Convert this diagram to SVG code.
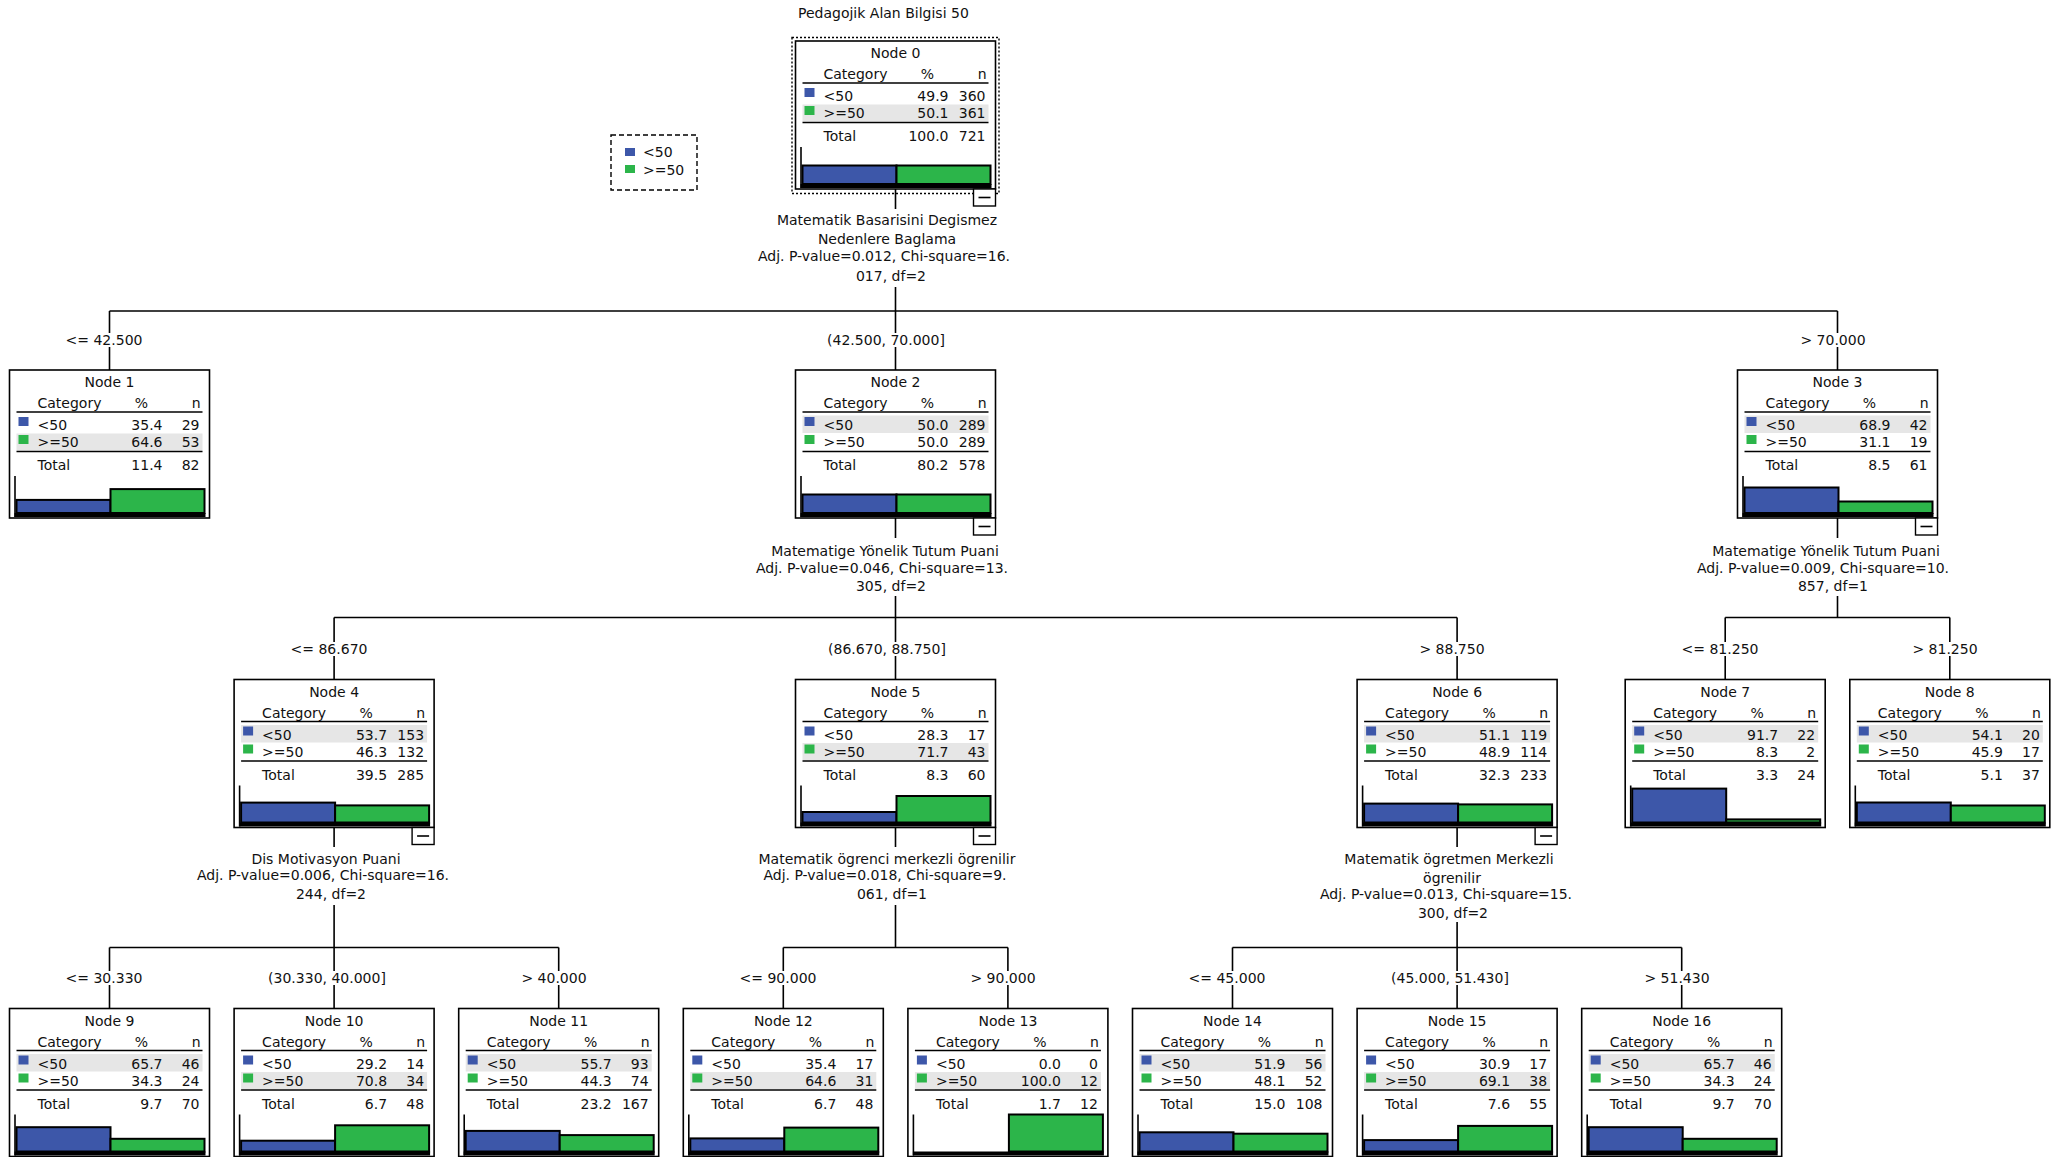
<svg xmlns="http://www.w3.org/2000/svg" width="2065" height="1157" viewBox="0 0 2065 1157">
<style>
.t{font-family:"DejaVu Sans","Liberation Sans",sans-serif;font-size:14px;fill:#111}
.c{text-anchor:middle}
.e{text-anchor:end}
.box{fill:#fff;stroke:#000;stroke-width:1.6}
.hl{fill:#e6e6e6}
.ln{stroke:#000;stroke-width:1.6}
.ax{stroke:#000;stroke-width:1.6}
.b{fill:#3d57a9}
.g{fill:#2cb54a}
.bar{stroke:#000;stroke-width:2}
.base{fill:#000}
.cb{fill:#fff;stroke:#000;stroke-width:1.4}
.conn{stroke:#000;stroke-width:1.6;fill:none}
.sel{fill:none;stroke:#000;stroke-width:1.4;stroke-dasharray:2 2}
.leg{fill:#fff;stroke:#000;stroke-width:1.4;stroke-dasharray:5 3}
</style>
<rect width="2065" height="1157" fill="#fff"/>
<text class="t" x="798" y="17.5">Pedagojik Alan Bilgisi 50</text>

<g id="legend">
<rect class="leg" x="611" y="135" width="86" height="55"/>
<rect class="b" x="625" y="148" width="10" height="8"/>
<text class="t" x="643" y="157">&lt;50</text>
<rect class="g" x="625" y="165" width="10" height="8"/>
<text class="t" x="643" y="175">&gt;=50</text>
</g>

<g id="connectors">
<path class="conn" d="M895.5 189V209M895.5 287V311M109.5 311H1837.5M109.5 311V333M109.5 347V370M895.5 311V333M895.5 347V370M1837.5 311V333M1837.5 347V370"/>
<path class="conn" d="M895.5 518V538M895.5 596V617.5M334.1 617.5H1457.1M334.1 617.5V642M334.1 656V679.5M895.5 617.5V642M895.5 656V679.5M1457.1 617.5V642M1457.1 656V679.5"/>
<path class="conn" d="M1837.5 518V538M1837.5 596V617.5M1725.2 617.5H1949.8M1725.2 617.5V642M1725.2 656V679.5M1949.8 617.5V642M1949.8 656V679.5"/>
<path class="conn" d="M334.1 827.5V847M334.1 905V947.5M109.5 947.5H558.7M109.5 947.5V971M109.5 985V1008.5M334.1 947.5V971M334.1 985V1008.5M558.7 947.5V971M558.7 985V1008.5"/>
<path class="conn" d="M895.5 827.5V847M895.5 905V947.5M783.3 947.5H1007.9M783.3 947.5V971M783.3 985V1008.5M1007.9 947.5V971M1007.9 985V1008.5"/>
<path class="conn" d="M1457.1 827.5V847M1457.1 922V947.5M1232.5 947.5H1681.7M1232.5 947.5V971M1232.5 985V1008.5M1457.1 947.5V971M1457.1 985V1008.5M1681.7 947.5V971M1681.7 985V1008.5"/>
</g>

<g id="labels">
<text class="t c" x="887" y="225">Matematik Basarisini Degismez</text>
<text class="t c" x="887" y="244">Nedenlere Baglama</text>
<text class="t c" x="884" y="261">Adj. P-value=0.012, Chi-square=16.</text>
<text class="t c" x="891" y="281">017, df=2</text>
<text class="t c" x="104" y="345">&lt;= 42.500</text>
<text class="t c" x="886" y="345">(42.500, 70.000]</text>
<text class="t c" x="1833" y="345">&gt; 70.000</text>

<text class="t c" x="885" y="555.5">Matematige Yönelik Tutum Puani</text>
<text class="t c" x="882" y="573">Adj. P-value=0.046, Chi-square=13.</text>
<text class="t c" x="891" y="590.5">305, df=2</text>
<text class="t c" x="1826" y="555.5">Matematige Yönelik Tutum Puani</text>
<text class="t c" x="1823" y="573">Adj. P-value=0.009, Chi-square=10.</text>
<text class="t c" x="1833" y="590.5">857, df=1</text>
<text class="t c" x="329" y="654">&lt;= 86.670</text>
<text class="t c" x="887" y="654">(86.670, 88.750]</text>
<text class="t c" x="1452" y="654">&gt; 88.750</text>
<text class="t c" x="1720" y="654">&lt;= 81.250</text>
<text class="t c" x="1945" y="654">&gt; 81.250</text>

<text class="t c" x="326" y="864">Dis Motivasyon Puani</text>
<text class="t c" x="323" y="880">Adj. P-value=0.006, Chi-square=16.</text>
<text class="t c" x="331" y="899">244, df=2</text>
<text class="t c" x="887" y="864">Matematik ögrenci merkezli ögrenilir</text>
<text class="t c" x="885" y="880">Adj. P-value=0.018, Chi-square=9.</text>
<text class="t c" x="892" y="899">061, df=1</text>
<text class="t c" x="1449" y="864">Matematik ögretmen Merkezli</text>
<text class="t c" x="1452" y="883">ögrenilir</text>
<text class="t c" x="1446" y="899">Adj. P-value=0.013, Chi-square=15.</text>
<text class="t c" x="1453" y="917.5">300, df=2</text>
<text class="t c" x="104" y="983">&lt;= 30.330</text>
<text class="t c" x="327" y="983">(30.330, 40.000]</text>
<text class="t c" x="554" y="983">&gt; 40.000</text>
<text class="t c" x="778" y="983">&lt;= 90.000</text>
<text class="t c" x="1003" y="983">&gt; 90.000</text>
<text class="t c" x="1227" y="983">&lt;= 45.000</text>
<text class="t c" x="1450" y="983">(45.000, 51.430]</text>
<text class="t c" x="1677" y="983">&gt; 51.430</text>
</g>

<g id="node0" transform="translate(795.5,41)">
<rect class="sel" x="-3.5" y="-3.5" width="207" height="156"/>
<rect class="box" width="200" height="148"/>
<rect class="hl" x="7" y="63.5" width="186" height="17"/>
<text class="t c" x="100" y="17">Node 0</text>
<text class="t" x="28" y="38">Category</text><text class="t c" x="132" y="38">%</text><text class="t e" x="191" y="38">n</text>
<line class="ln" x1="7" y1="42" x2="193" y2="42"/>
<rect class="b" x="9" y="47" width="10" height="9"/><text class="t" x="28" y="60">&lt;50</text><text class="t e" x="153" y="60">49.9</text><text class="t e" x="190" y="60">360</text>
<rect class="g" x="9" y="65" width="10" height="9"/><text class="t" x="28" y="77">&gt;=50</text><text class="t e" x="153" y="77">50.1</text><text class="t e" x="190" y="77">361</text>
<line class="ln" x1="7" y1="81.5" x2="193" y2="81.5"/>
<text class="t" x="28" y="100">Total</text><text class="t e" x="153" y="100">100.0</text><text class="t e" x="190" y="100">721</text>
<line class="ax" x1="5.5" y1="106" x2="5.5" y2="147"/>
<rect class="bar b" x="7" y="124.5" width="94" height="18.5"/><rect class="bar g" x="101" y="124.5" width="94" height="18.5"/>
<rect class="base" x="5" y="143" width="191" height="4"/>
<rect class="cb" x="178" y="148" width="22" height="17"/><line class="ln" x1="183" y1="156.5" x2="195" y2="156.5"/>
</g>

<g id="node1" transform="translate(9.5,370)">
<rect class="box" width="200" height="148"/>
<rect class="hl" x="7" y="63.5" width="186" height="17"/>
<text class="t c" x="100" y="17">Node 1</text>
<text class="t" x="28" y="38">Category</text><text class="t c" x="132" y="38">%</text><text class="t e" x="191" y="38">n</text>
<line class="ln" x1="7" y1="42" x2="193" y2="42"/>
<rect class="b" x="9" y="47" width="10" height="9"/><text class="t" x="28" y="60">&lt;50</text><text class="t e" x="153" y="60">35.4</text><text class="t e" x="190" y="60">29</text>
<rect class="g" x="9" y="65" width="10" height="9"/><text class="t" x="28" y="77">&gt;=50</text><text class="t e" x="153" y="77">64.6</text><text class="t e" x="190" y="77">53</text>
<line class="ln" x1="7" y1="81.5" x2="193" y2="81.5"/>
<text class="t" x="28" y="100">Total</text><text class="t e" x="153" y="100">11.4</text><text class="t e" x="190" y="100">82</text>
<line class="ax" x1="5.5" y1="106" x2="5.5" y2="147"/>
<rect class="bar b" x="7" y="129.9" width="94" height="13.1"/><rect class="bar g" x="101" y="119.1" width="94" height="23.9"/>
<rect class="base" x="5" y="143" width="191" height="4"/>
</g>

<g id="node2" transform="translate(795.5,370)">
<rect class="box" width="200" height="148"/>
<rect class="hl" x="7" y="45.5" width="186" height="17.5"/>
<text class="t c" x="100" y="17">Node 2</text>
<text class="t" x="28" y="38">Category</text><text class="t c" x="132" y="38">%</text><text class="t e" x="191" y="38">n</text>
<line class="ln" x1="7" y1="42" x2="193" y2="42"/>
<rect class="b" x="9" y="47" width="10" height="9"/><text class="t" x="28" y="60">&lt;50</text><text class="t e" x="153" y="60">50.0</text><text class="t e" x="190" y="60">289</text>
<rect class="g" x="9" y="65" width="10" height="9"/><text class="t" x="28" y="77">&gt;=50</text><text class="t e" x="153" y="77">50.0</text><text class="t e" x="190" y="77">289</text>
<line class="ln" x1="7" y1="81.5" x2="193" y2="81.5"/>
<text class="t" x="28" y="100">Total</text><text class="t e" x="153" y="100">80.2</text><text class="t e" x="190" y="100">578</text>
<line class="ax" x1="5.5" y1="106" x2="5.5" y2="147"/>
<rect class="bar b" x="7" y="124.5" width="94" height="18.5"/><rect class="bar g" x="101" y="124.5" width="94" height="18.5"/>
<rect class="base" x="5" y="143" width="191" height="4"/>
<rect class="cb" x="178" y="148" width="22" height="17"/><line class="ln" x1="183" y1="156.5" x2="195" y2="156.5"/>
</g>

<g id="node3" transform="translate(1737.5,370)">
<rect class="box" width="200" height="148"/>
<rect class="hl" x="7" y="45.5" width="186" height="17.5"/>
<text class="t c" x="100" y="17">Node 3</text>
<text class="t" x="28" y="38">Category</text><text class="t c" x="132" y="38">%</text><text class="t e" x="191" y="38">n</text>
<line class="ln" x1="7" y1="42" x2="193" y2="42"/>
<rect class="b" x="9" y="47" width="10" height="9"/><text class="t" x="28" y="60">&lt;50</text><text class="t e" x="153" y="60">68.9</text><text class="t e" x="190" y="60">42</text>
<rect class="g" x="9" y="65" width="10" height="9"/><text class="t" x="28" y="77">&gt;=50</text><text class="t e" x="153" y="77">31.1</text><text class="t e" x="190" y="77">19</text>
<line class="ln" x1="7" y1="81.5" x2="193" y2="81.5"/>
<text class="t" x="28" y="100">Total</text><text class="t e" x="153" y="100">8.5</text><text class="t e" x="190" y="100">61</text>
<line class="ax" x1="5.5" y1="106" x2="5.5" y2="147"/>
<rect class="bar b" x="7" y="117.5" width="94" height="25.5"/><rect class="bar g" x="101" y="131.5" width="94" height="11.5"/>
<rect class="base" x="5" y="143" width="191" height="4"/>
<rect class="cb" x="178" y="148" width="22" height="17"/><line class="ln" x1="183" y1="156.5" x2="195" y2="156.5"/>
</g>

<g id="node4" transform="translate(234.1,679.5)">
<rect class="box" width="200" height="148"/>
<rect class="hl" x="7" y="45.5" width="186" height="17.5"/>
<text class="t c" x="100" y="17">Node 4</text>
<text class="t" x="28" y="38">Category</text><text class="t c" x="132" y="38">%</text><text class="t e" x="191" y="38">n</text>
<line class="ln" x1="7" y1="42" x2="193" y2="42"/>
<rect class="b" x="9" y="47" width="10" height="9"/><text class="t" x="28" y="60">&lt;50</text><text class="t e" x="153" y="60">53.7</text><text class="t e" x="190" y="60">153</text>
<rect class="g" x="9" y="65" width="10" height="9"/><text class="t" x="28" y="77">&gt;=50</text><text class="t e" x="153" y="77">46.3</text><text class="t e" x="190" y="77">132</text>
<line class="ln" x1="7" y1="81.5" x2="193" y2="81.5"/>
<text class="t" x="28" y="100">Total</text><text class="t e" x="153" y="100">39.5</text><text class="t e" x="190" y="100">285</text>
<line class="ax" x1="5.5" y1="106" x2="5.5" y2="147"/>
<rect class="bar b" x="7" y="123.1" width="94" height="19.9"/><rect class="bar g" x="101" y="125.9" width="94" height="17.1"/>
<rect class="base" x="5" y="143" width="191" height="4"/>
<rect class="cb" x="178" y="148" width="22" height="17"/><line class="ln" x1="183" y1="156.5" x2="195" y2="156.5"/>
</g>

<g id="node5" transform="translate(795.5,679.5)">
<rect class="box" width="200" height="148"/>
<rect class="hl" x="7" y="63.5" width="186" height="17"/>
<text class="t c" x="100" y="17">Node 5</text>
<text class="t" x="28" y="38">Category</text><text class="t c" x="132" y="38">%</text><text class="t e" x="191" y="38">n</text>
<line class="ln" x1="7" y1="42" x2="193" y2="42"/>
<rect class="b" x="9" y="47" width="10" height="9"/><text class="t" x="28" y="60">&lt;50</text><text class="t e" x="153" y="60">28.3</text><text class="t e" x="190" y="60">17</text>
<rect class="g" x="9" y="65" width="10" height="9"/><text class="t" x="28" y="77">&gt;=50</text><text class="t e" x="153" y="77">71.7</text><text class="t e" x="190" y="77">43</text>
<line class="ln" x1="7" y1="81.5" x2="193" y2="81.5"/>
<text class="t" x="28" y="100">Total</text><text class="t e" x="153" y="100">8.3</text><text class="t e" x="190" y="100">60</text>
<line class="ax" x1="5.5" y1="106" x2="5.5" y2="147"/>
<rect class="bar b" x="7" y="132.5" width="94" height="10.5"/><rect class="bar g" x="101" y="116.5" width="94" height="26.5"/>
<rect class="base" x="5" y="143" width="191" height="4"/>
<rect class="cb" x="178" y="148" width="22" height="17"/><line class="ln" x1="183" y1="156.5" x2="195" y2="156.5"/>
</g>

<g id="node6" transform="translate(1357.1,679.5)">
<rect class="box" width="200" height="148"/>
<rect class="hl" x="7" y="45.5" width="186" height="17.5"/>
<text class="t c" x="100" y="17">Node 6</text>
<text class="t" x="28" y="38">Category</text><text class="t c" x="132" y="38">%</text><text class="t e" x="191" y="38">n</text>
<line class="ln" x1="7" y1="42" x2="193" y2="42"/>
<rect class="b" x="9" y="47" width="10" height="9"/><text class="t" x="28" y="60">&lt;50</text><text class="t e" x="153" y="60">51.1</text><text class="t e" x="190" y="60">119</text>
<rect class="g" x="9" y="65" width="10" height="9"/><text class="t" x="28" y="77">&gt;=50</text><text class="t e" x="153" y="77">48.9</text><text class="t e" x="190" y="77">114</text>
<line class="ln" x1="7" y1="81.5" x2="193" y2="81.5"/>
<text class="t" x="28" y="100">Total</text><text class="t e" x="153" y="100">32.3</text><text class="t e" x="190" y="100">233</text>
<line class="ax" x1="5.5" y1="106" x2="5.5" y2="147"/>
<rect class="bar b" x="7" y="124.1" width="94" height="18.9"/><rect class="bar g" x="101" y="124.9" width="94" height="18.1"/>
<rect class="base" x="5" y="143" width="191" height="4"/>
<rect class="cb" x="178" y="148" width="22" height="17"/><line class="ln" x1="183" y1="156.5" x2="195" y2="156.5"/>
</g>

<g id="node7" transform="translate(1625.2,679.5)">
<rect class="box" width="200" height="148"/>
<rect class="hl" x="7" y="45.5" width="186" height="17.5"/>
<text class="t c" x="100" y="17">Node 7</text>
<text class="t" x="28" y="38">Category</text><text class="t c" x="132" y="38">%</text><text class="t e" x="191" y="38">n</text>
<line class="ln" x1="7" y1="42" x2="193" y2="42"/>
<rect class="b" x="9" y="47" width="10" height="9"/><text class="t" x="28" y="60">&lt;50</text><text class="t e" x="153" y="60">91.7</text><text class="t e" x="190" y="60">22</text>
<rect class="g" x="9" y="65" width="10" height="9"/><text class="t" x="28" y="77">&gt;=50</text><text class="t e" x="153" y="77">8.3</text><text class="t e" x="190" y="77">2</text>
<line class="ln" x1="7" y1="81.5" x2="193" y2="81.5"/>
<text class="t" x="28" y="100">Total</text><text class="t e" x="153" y="100">3.3</text><text class="t e" x="190" y="100">24</text>
<line class="ax" x1="5.5" y1="106" x2="5.5" y2="147"/>
<rect class="bar b" x="7" y="109.1" width="94" height="33.9"/><rect class="bar g" x="101" y="139.9" width="94" height="3.1"/>
<rect class="base" x="5" y="143" width="191" height="4"/>
</g>

<g id="node8" transform="translate(1849.8,679.5)">
<rect class="box" width="200" height="148"/>
<rect class="hl" x="7" y="45.5" width="186" height="17.5"/>
<text class="t c" x="100" y="17">Node 8</text>
<text class="t" x="28" y="38">Category</text><text class="t c" x="132" y="38">%</text><text class="t e" x="191" y="38">n</text>
<line class="ln" x1="7" y1="42" x2="193" y2="42"/>
<rect class="b" x="9" y="47" width="10" height="9"/><text class="t" x="28" y="60">&lt;50</text><text class="t e" x="153" y="60">54.1</text><text class="t e" x="190" y="60">20</text>
<rect class="g" x="9" y="65" width="10" height="9"/><text class="t" x="28" y="77">&gt;=50</text><text class="t e" x="153" y="77">45.9</text><text class="t e" x="190" y="77">17</text>
<line class="ln" x1="7" y1="81.5" x2="193" y2="81.5"/>
<text class="t" x="28" y="100">Total</text><text class="t e" x="153" y="100">5.1</text><text class="t e" x="190" y="100">37</text>
<line class="ax" x1="5.5" y1="106" x2="5.5" y2="147"/>
<rect class="bar b" x="7" y="123" width="94" height="20"/><rect class="bar g" x="101" y="126" width="94" height="17"/>
<rect class="base" x="5" y="143" width="191" height="4"/>
</g>

<g id="node9" transform="translate(9.5,1008.5)">
<rect class="box" width="200" height="148"/>
<rect class="hl" x="7" y="45.5" width="186" height="17.5"/>
<text class="t c" x="100" y="17">Node 9</text>
<text class="t" x="28" y="38">Category</text><text class="t c" x="132" y="38">%</text><text class="t e" x="191" y="38">n</text>
<line class="ln" x1="7" y1="42" x2="193" y2="42"/>
<rect class="b" x="9" y="47" width="10" height="9"/><text class="t" x="28" y="60">&lt;50</text><text class="t e" x="153" y="60">65.7</text><text class="t e" x="190" y="60">46</text>
<rect class="g" x="9" y="65" width="10" height="9"/><text class="t" x="28" y="77">&gt;=50</text><text class="t e" x="153" y="77">34.3</text><text class="t e" x="190" y="77">24</text>
<line class="ln" x1="7" y1="81.5" x2="193" y2="81.5"/>
<text class="t" x="28" y="100">Total</text><text class="t e" x="153" y="100">9.7</text><text class="t e" x="190" y="100">70</text>
<line class="ax" x1="5.5" y1="106" x2="5.5" y2="147"/>
<rect class="bar b" x="7" y="118.7" width="94" height="24.3"/><rect class="bar g" x="101" y="130.3" width="94" height="12.7"/>
<rect class="base" x="5" y="143" width="191" height="4"/>
</g>

<g id="node10" transform="translate(234.1,1008.5)">
<rect class="box" width="200" height="148"/>
<rect class="hl" x="7" y="63.5" width="186" height="17"/>
<text class="t c" x="100" y="17">Node 10</text>
<text class="t" x="28" y="38">Category</text><text class="t c" x="132" y="38">%</text><text class="t e" x="191" y="38">n</text>
<line class="ln" x1="7" y1="42" x2="193" y2="42"/>
<rect class="b" x="9" y="47" width="10" height="9"/><text class="t" x="28" y="60">&lt;50</text><text class="t e" x="153" y="60">29.2</text><text class="t e" x="190" y="60">14</text>
<rect class="g" x="9" y="65" width="10" height="9"/><text class="t" x="28" y="77">&gt;=50</text><text class="t e" x="153" y="77">70.8</text><text class="t e" x="190" y="77">34</text>
<line class="ln" x1="7" y1="81.5" x2="193" y2="81.5"/>
<text class="t" x="28" y="100">Total</text><text class="t e" x="153" y="100">6.7</text><text class="t e" x="190" y="100">48</text>
<line class="ax" x1="5.5" y1="106" x2="5.5" y2="147"/>
<rect class="bar b" x="7" y="132.2" width="94" height="10.8"/><rect class="bar g" x="101" y="116.8" width="94" height="26.2"/>
<rect class="base" x="5" y="143" width="191" height="4"/>
</g>

<g id="node11" transform="translate(458.7,1008.5)">
<rect class="box" width="200" height="148"/>
<rect class="hl" x="7" y="45.5" width="186" height="17.5"/>
<text class="t c" x="100" y="17">Node 11</text>
<text class="t" x="28" y="38">Category</text><text class="t c" x="132" y="38">%</text><text class="t e" x="191" y="38">n</text>
<line class="ln" x1="7" y1="42" x2="193" y2="42"/>
<rect class="b" x="9" y="47" width="10" height="9"/><text class="t" x="28" y="60">&lt;50</text><text class="t e" x="153" y="60">55.7</text><text class="t e" x="190" y="60">93</text>
<rect class="g" x="9" y="65" width="10" height="9"/><text class="t" x="28" y="77">&gt;=50</text><text class="t e" x="153" y="77">44.3</text><text class="t e" x="190" y="77">74</text>
<line class="ln" x1="7" y1="81.5" x2="193" y2="81.5"/>
<text class="t" x="28" y="100">Total</text><text class="t e" x="153" y="100">23.2</text><text class="t e" x="190" y="100">167</text>
<line class="ax" x1="5.5" y1="106" x2="5.5" y2="147"/>
<rect class="bar b" x="7" y="122.4" width="94" height="20.6"/><rect class="bar g" x="101" y="126.6" width="94" height="16.4"/>
<rect class="base" x="5" y="143" width="191" height="4"/>
</g>

<g id="node12" transform="translate(683.3,1008.5)">
<rect class="box" width="200" height="148"/>
<rect class="hl" x="7" y="63.5" width="186" height="17"/>
<text class="t c" x="100" y="17">Node 12</text>
<text class="t" x="28" y="38">Category</text><text class="t c" x="132" y="38">%</text><text class="t e" x="191" y="38">n</text>
<line class="ln" x1="7" y1="42" x2="193" y2="42"/>
<rect class="b" x="9" y="47" width="10" height="9"/><text class="t" x="28" y="60">&lt;50</text><text class="t e" x="153" y="60">35.4</text><text class="t e" x="190" y="60">17</text>
<rect class="g" x="9" y="65" width="10" height="9"/><text class="t" x="28" y="77">&gt;=50</text><text class="t e" x="153" y="77">64.6</text><text class="t e" x="190" y="77">31</text>
<line class="ln" x1="7" y1="81.5" x2="193" y2="81.5"/>
<text class="t" x="28" y="100">Total</text><text class="t e" x="153" y="100">6.7</text><text class="t e" x="190" y="100">48</text>
<line class="ax" x1="5.5" y1="106" x2="5.5" y2="147"/>
<rect class="bar b" x="7" y="129.9" width="94" height="13.1"/><rect class="bar g" x="101" y="119.1" width="94" height="23.9"/>
<rect class="base" x="5" y="143" width="191" height="4"/>
</g>

<g id="node13" transform="translate(907.9,1008.5)">
<rect class="box" width="200" height="148"/>
<rect class="hl" x="7" y="63.5" width="186" height="17"/>
<text class="t c" x="100" y="17">Node 13</text>
<text class="t" x="28" y="38">Category</text><text class="t c" x="132" y="38">%</text><text class="t e" x="191" y="38">n</text>
<line class="ln" x1="7" y1="42" x2="193" y2="42"/>
<rect class="b" x="9" y="47" width="10" height="9"/><text class="t" x="28" y="60">&lt;50</text><text class="t e" x="153" y="60">0.0</text><text class="t e" x="190" y="60">0</text>
<rect class="g" x="9" y="65" width="10" height="9"/><text class="t" x="28" y="77">&gt;=50</text><text class="t e" x="153" y="77">100.0</text><text class="t e" x="190" y="77">12</text>
<line class="ln" x1="7" y1="81.5" x2="193" y2="81.5"/>
<text class="t" x="28" y="100">Total</text><text class="t e" x="153" y="100">1.7</text><text class="t e" x="190" y="100">12</text>
<line class="ax" x1="5.5" y1="106" x2="5.5" y2="147"/>
<rect class="bar g" x="101" y="106" width="94" height="37"/>
<rect class="base" x="5" y="143" width="191" height="4"/>
</g>

<g id="node14" transform="translate(1132.5,1008.5)">
<rect class="box" width="200" height="148"/>
<rect class="hl" x="7" y="45.5" width="186" height="17.5"/>
<text class="t c" x="100" y="17">Node 14</text>
<text class="t" x="28" y="38">Category</text><text class="t c" x="132" y="38">%</text><text class="t e" x="191" y="38">n</text>
<line class="ln" x1="7" y1="42" x2="193" y2="42"/>
<rect class="b" x="9" y="47" width="10" height="9"/><text class="t" x="28" y="60">&lt;50</text><text class="t e" x="153" y="60">51.9</text><text class="t e" x="190" y="60">56</text>
<rect class="g" x="9" y="65" width="10" height="9"/><text class="t" x="28" y="77">&gt;=50</text><text class="t e" x="153" y="77">48.1</text><text class="t e" x="190" y="77">52</text>
<line class="ln" x1="7" y1="81.5" x2="193" y2="81.5"/>
<text class="t" x="28" y="100">Total</text><text class="t e" x="153" y="100">15.0</text><text class="t e" x="190" y="100">108</text>
<line class="ax" x1="5.5" y1="106" x2="5.5" y2="147"/>
<rect class="bar b" x="7" y="123.8" width="94" height="19.2"/><rect class="bar g" x="101" y="125.2" width="94" height="17.8"/>
<rect class="base" x="5" y="143" width="191" height="4"/>
</g>

<g id="node15" transform="translate(1357.1,1008.5)">
<rect class="box" width="200" height="148"/>
<rect class="hl" x="7" y="63.5" width="186" height="17"/>
<text class="t c" x="100" y="17">Node 15</text>
<text class="t" x="28" y="38">Category</text><text class="t c" x="132" y="38">%</text><text class="t e" x="191" y="38">n</text>
<line class="ln" x1="7" y1="42" x2="193" y2="42"/>
<rect class="b" x="9" y="47" width="10" height="9"/><text class="t" x="28" y="60">&lt;50</text><text class="t e" x="153" y="60">30.9</text><text class="t e" x="190" y="60">17</text>
<rect class="g" x="9" y="65" width="10" height="9"/><text class="t" x="28" y="77">&gt;=50</text><text class="t e" x="153" y="77">69.1</text><text class="t e" x="190" y="77">38</text>
<line class="ln" x1="7" y1="81.5" x2="193" y2="81.5"/>
<text class="t" x="28" y="100">Total</text><text class="t e" x="153" y="100">7.6</text><text class="t e" x="190" y="100">55</text>
<line class="ax" x1="5.5" y1="106" x2="5.5" y2="147"/>
<rect class="bar b" x="7" y="131.6" width="94" height="11.4"/><rect class="bar g" x="101" y="117.4" width="94" height="25.6"/>
<rect class="base" x="5" y="143" width="191" height="4"/>
</g>

<g id="node16" transform="translate(1581.7,1008.5)">
<rect class="box" width="200" height="148"/>
<rect class="hl" x="7" y="45.5" width="186" height="17.5"/>
<text class="t c" x="100" y="17">Node 16</text>
<text class="t" x="28" y="38">Category</text><text class="t c" x="132" y="38">%</text><text class="t e" x="191" y="38">n</text>
<line class="ln" x1="7" y1="42" x2="193" y2="42"/>
<rect class="b" x="9" y="47" width="10" height="9"/><text class="t" x="28" y="60">&lt;50</text><text class="t e" x="153" y="60">65.7</text><text class="t e" x="190" y="60">46</text>
<rect class="g" x="9" y="65" width="10" height="9"/><text class="t" x="28" y="77">&gt;=50</text><text class="t e" x="153" y="77">34.3</text><text class="t e" x="190" y="77">24</text>
<line class="ln" x1="7" y1="81.5" x2="193" y2="81.5"/>
<text class="t" x="28" y="100">Total</text><text class="t e" x="153" y="100">9.7</text><text class="t e" x="190" y="100">70</text>
<line class="ax" x1="5.5" y1="106" x2="5.5" y2="147"/>
<rect class="bar b" x="7" y="118.7" width="94" height="24.3"/><rect class="bar g" x="101" y="130.3" width="94" height="12.7"/>
<rect class="base" x="5" y="143" width="191" height="4"/>
</g>
</svg>
